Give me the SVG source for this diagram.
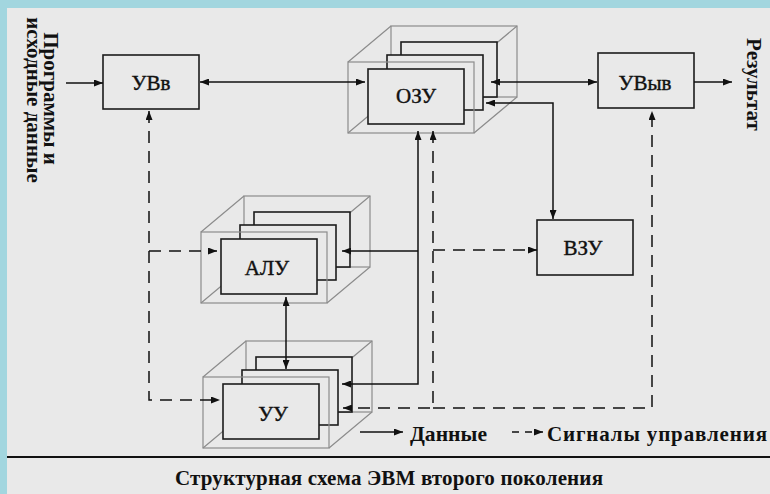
<svg xmlns="http://www.w3.org/2000/svg" width="770" height="494" viewBox="0 0 770 494" font-family="'Liberation Serif', 'DejaVu Serif', serif">
<style>
.bg{fill:#a2d6df}
.panel{fill:#e9e9e9}
.box{fill:#e9e9e9;stroke:#1c1c1c;stroke-width:1.6}
.cube{fill:none;stroke:#8c8c8c;stroke-width:1.2}
.lbl{font-family:'Liberation Serif','DejaVu Serif',serif;font-size:21px;fill:#111;text-anchor:middle}
.reg{stroke:#111;stroke-width:0.4}
.b{font-weight:bold}
.ln{fill:none;stroke:#111;stroke-width:1.5}
.dash{stroke-dasharray:12 8}
.sdash{stroke-dasharray:7 6}
</style>
<defs>
<marker id="ah" viewBox="0 0 9 7" refX="9" refY="3.5" markerWidth="9" markerHeight="7" markerUnits="userSpaceOnUse" orient="auto-start-reverse">
<path d="M0,0 L9,3.5 L0,7 z" fill="#111"/>
</marker>
</defs>
<rect class="bg" x="0" y="0" width="770" height="494"/>
<rect class="panel" x="7" y="8" width="763" height="486"/>

<g id="n-uvv">
<rect class="box" x="103" y="55" width="96" height="54"/>
<text class="lbl reg" x="151" y="90">УВв</text>
</g>

<g id="n-uvyv">
<rect class="box" x="598" y="53" width="96" height="55"/>
<text class="lbl reg" x="645" y="90">УВыв</text>
</g>

<g id="n-vzu">
<rect class="box" x="537" y="220" width="96" height="55"/>
<text class="lbl reg" x="583" y="255">ВЗУ</text>
</g>

<g id="n-ozu">
<rect class="cube" x="391" y="26" width="126" height="71"/>
<path class="cube" d="M348,62 L391,26 M474,62 L517,26 M474,133 L517,97 M348,133 L391,97"/>
<rect class="box" x="401" y="42" width="96" height="55"/>
<rect class="box" x="387" y="55" width="96" height="55"/>
<rect class="box" x="368" y="69" width="96" height="55"/>
<rect class="cube" x="348" y="62" width="126" height="71"/>
<text class="lbl reg" x="416" y="103">ОЗУ</text>
</g>

<g id="n-alu">
<rect class="cube" x="244" y="196" width="126" height="71"/>
<path class="cube" d="M201,232 L244,196 M327,232 L370,196 M327,303 L370,267 M201,303 L244,267"/>
<rect class="box" x="254" y="212" width="96" height="55"/>
<rect class="box" x="240" y="225" width="96" height="55"/>
<rect class="box" x="221" y="239" width="96" height="55"/>
<rect class="cube" x="201" y="232" width="126" height="71"/>
<text class="lbl reg" x="267" y="275">АЛУ</text>
</g>

<g id="n-uu">
<rect class="cube" x="246" y="341" width="126" height="71"/>
<path class="cube" d="M203,377 L246,341 M329,377 L372,341 M329,448 L372,412 M203,448 L246,412"/>
<rect class="box" x="256" y="357" width="96" height="55"/>
<rect class="box" x="242" y="370" width="96" height="55"/>
<rect class="box" x="223" y="384" width="96" height="55"/>
<rect class="cube" x="203" y="377" width="126" height="71"/>
<text class="lbl reg" x="273" y="421">УУ</text>
</g>

<g id="connectors">
<path class="ln" d="M66,83 H103" marker-end="url(#ah)"/>
<path class="ln" d="M200,82 H365" marker-start="url(#ah)" marker-end="url(#ah)"/>
<path class="ln" d="M491,82 H597" marker-start="url(#ah)" marker-end="url(#ah)"/>
<path class="ln" d="M694,82 H732" marker-end="url(#ah)"/>
<path class="ln" d="M486,103 H553 V219" marker-start="url(#ah)" marker-end="url(#ah)"/>
<path class="ln" d="M418,131 V384 H342" marker-start="url(#ah)" marker-end="url(#ah)"/>
<path class="ln" d="M418,251 H342" marker-end="url(#ah)"/>
<path class="ln" d="M286,297 V369" marker-start="url(#ah)" marker-end="url(#ah)"/>
<path class="ln dash" d="M149,111 V400 H220" marker-start="url(#ah)" marker-end="url(#ah)"/>
<path class="ln dash" d="M149,251 H217" marker-end="url(#ah)"/>
<path class="ln dash" d="M433,131 V408 H343" marker-start="url(#ah)" marker-end="url(#ah)"/>
<path class="ln dash" d="M433,408 H652 V111" marker-end="url(#ah)"/>
<path class="ln dash" d="M433,250 H537" marker-end="url(#ah)"/>
</g>

<g id="input-label">
<text class="lbl b" transform="translate(43.5,98.5) rotate(90)">Программы и</text>
<text class="lbl b" transform="translate(26.5,100) rotate(90)">исходные данные</text>
</g>

<g id="output-label">
<text class="lbl b" transform="translate(747,84.5) rotate(90)">Результат</text>
</g>

<g id="legend">
<path class="ln" d="M360,432 H403" marker-end="url(#ah)"/>
<text class="lbl b" x="410" y="441" style="text-anchor:start" textLength="77" lengthAdjust="spacingAndGlyphs">Данные</text>
<path class="ln sdash" d="M512,432 H543" marker-end="url(#ah)"/>
<text class="lbl b" x="547" y="441" style="text-anchor:start" textLength="220" lengthAdjust="spacing">Сигналы управления</text>
</g>

<line x1="7" y1="457" x2="770" y2="457" stroke="#111" stroke-width="2"/>
<text class="lbl b" x="175" y="485" style="text-anchor:start" textLength="428" lengthAdjust="spacing">Структурная схема ЭВМ второго поколения</text>
</svg>
